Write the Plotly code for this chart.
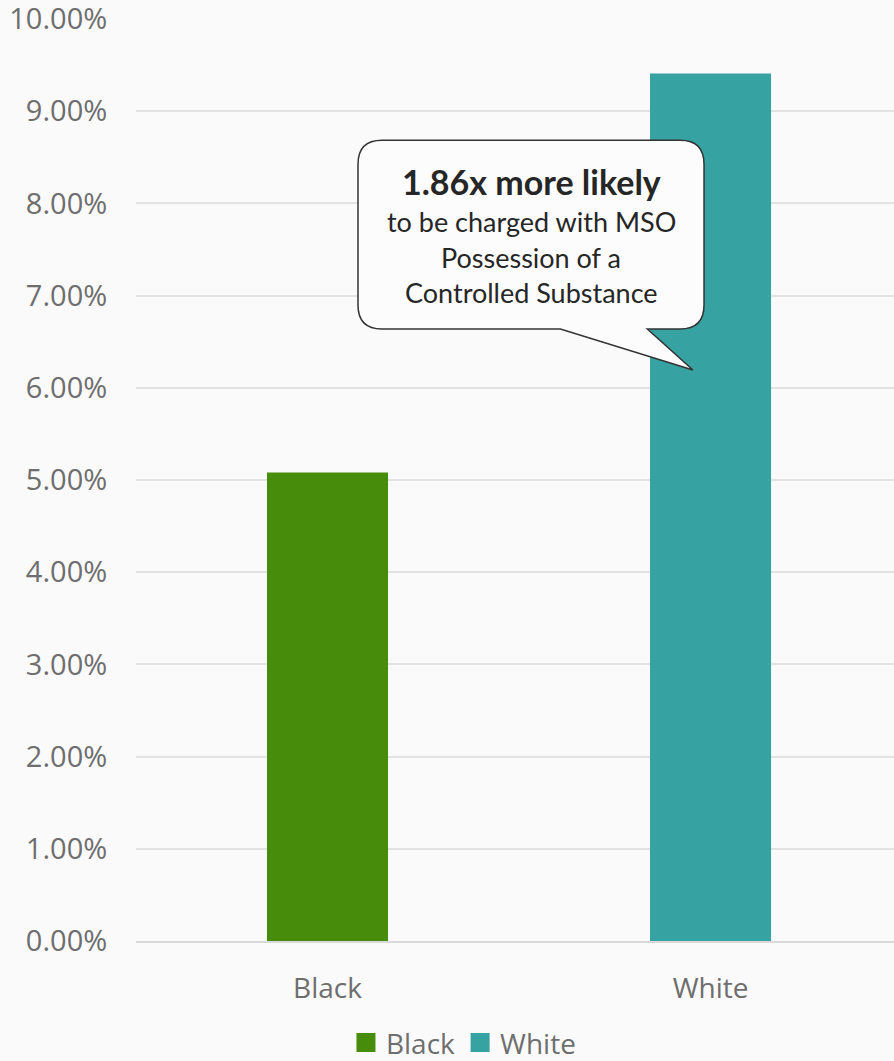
import plotly.graph_objects as go

categories = ["Black", "White"]
values = [0.0508, 0.0941]
colors = ["#478C0A", "#37A2A2"]
y_ticks = [i / 100 for i in range(0, 11)]

callout_bold = "1.86x more likely"
callout_lines = ["to be charged with MSO", "Possession of a", "Controlled Substance"]

W, H = 894, 1061
ml, mr, mt, mb = 136, 0, 19, 120
pw, ph = W - ml - mr, H - mt - mb
xr = [-0.5, 1.479]
yr = [0, 0.1]

fig = go.Figure()
for c, v, col in zip(categories, values, colors):
    fig.add_trace(go.Bar(x=[c], y=[v], name=c, marker=dict(color=col, line=dict(width=0)),
                         width=0.316, hoverinfo="skip", showlegend=False))
# legend entries (square swatches)
for c, col in zip(categories, colors):
    fig.add_trace(go.Scatter(x=[None], y=[None], mode="markers", name=c,
                             marker=dict(symbol="square", size=18, color=col,
                                         line=dict(color=col, width=3)),
                             hoverinfo="skip", showlegend=True))

def px_(xv):
    return (xv - xr[0]) / (xr[1] - xr[0])

def py_(yv):
    return (yv - yr[0]) / (yr[1] - yr[0])

# callout geometry in data units (x: category index, y: value)
bx0, bx1, by0, by1 = 0.0796, 0.983, 0.06637, 0.08686
tail_a, tail_b, tip_x, tip_y = 0.608, 0.835, 0.954, 0.06193
L, R, B, T = px_(bx0), px_(bx1), py_(by0), py_(by1)
rx, ry = 24 / pw, 24 / ph
ta, tb, tx, ty = px_(tail_a), px_(tail_b), px_(tip_x), py_(tip_y)
path = (f"M {L+rx},{T} L {R-rx},{T} Q {R},{T} {R},{T-ry} "
        f"L {R},{B+ry} Q {R},{B} {R-rx},{B} L {tb},{B} L {tx},{ty} L {ta},{B} "
        f"L {L+rx},{B} Q {L},{B} {L},{B+ry} L {L},{T-ry} Q {L},{T} {L+rx},{T} Z")
fig.add_shape(type="path", path=path, xref="paper", yref="paper",
              fillcolor="#FCFCFC", line=dict(color="#333333", width=1.5), layer="above")

cx = (L + R) / 2
line_y = [0.0824, 0.0780, 0.0741, 0.0703]
fig.add_annotation(x=cx, y=py_(line_y[0]), xref="paper", yref="paper",
                   xanchor="center", yanchor="middle",
                   text=f"<b>{callout_bold}</b>", showarrow=False,
                   font=dict(family="Lato", size=34, color="#262626"))
for t, yy in zip(callout_lines, line_y[1:]):
    fig.add_annotation(x=cx, y=py_(yy), xref="paper", yref="paper", text=t,
                       xanchor="center", yanchor="middle",
                       showarrow=False, font=dict(family="Lato", size=27, color="#262626"))

fig.update_layout(
    width=W, height=H,
    margin=dict(l=ml, r=mr, t=mt, b=mb, autoexpand=False),
    paper_bgcolor="#FAFAFA", plot_bgcolor="#FAFAFA",
    barmode="overlay",
    showlegend=True,
    legend=dict(orientation="h", x=0.432, xanchor="center", y=-0.1105, yanchor="middle",
                font=dict(family="Open Sans", size=28, color="#6E6E6E"),
                itemwidth=30, tracegroupgap=0, bgcolor="rgba(0,0,0,0)"),
    xaxis=dict(range=xr, showgrid=False, showline=True, linecolor="#D9D9D9", linewidth=1.5,
               ticks="outside", ticklen=22, tickcolor="rgba(0,0,0,0)",
               tickfont=dict(family="Open Sans", size=28, color="#6E6E6E"),
               categoryorder="array", categoryarray=categories),
    yaxis=dict(range=yr, tickvals=y_ticks, tickformat=".2%", showgrid=True,
               gridcolor="#E2E2E2", gridwidth=1.5, zeroline=False,
               ticks="outside", ticklen=22, tickcolor="rgba(0,0,0,0)",
               ticklabeloverflow="allow",
               tickfont=dict(family="Open Sans", size=29, color="#6E6E6E")),
    font=dict(family="Open Sans"),
)

fig.write_html("out.html", config={"displayModeBar": False},
               post_script="document.body.style.margin='0';document.body.style.padding='0';")
